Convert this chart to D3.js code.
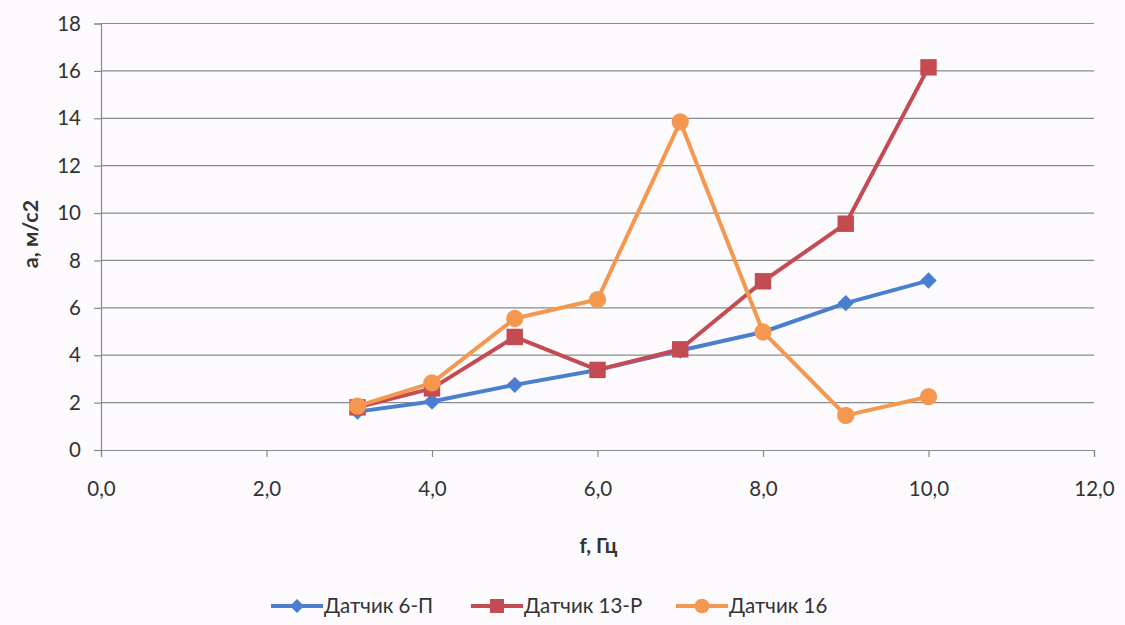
<!DOCTYPE html>
<html><head><meta charset="utf-8">
<script src="https://cdn.jsdelivr.net/npm/d3@7"></script>
<style>
html,body{margin:0;padding:0;background:#fcfafc;}
svg{display:block;font-family:Lato,"Open Sans",sans-serif;}
</style></head><body>
<svg id="c" width="1125" height="625"></svg>
<script>
const freq = [3.1, 4, 5, 6, 7, 8, 9, 10];
const sensor6P = [1.62, 2.05, 2.75, 3.38, 4.2, 4.98, 6.2, 7.15];
const sensor13R = [1.8, 2.6, 4.77, 3.38, 4.25, 7.12, 9.55, 16.15];
const sensor16 = [1.85, 2.83, 5.55, 6.35, 13.85, 4.98, 1.46, 2.25];
const seriesNames = ["Датчик 6-П", "Датчик 13-Р", "Датчик 16"];
const seriesColors = ["#4a7fcf", "#c54b52", "#f3984e"];
const xTicks = [0, 2, 4, 6, 8, 10, 12];
const yTicks = [0, 2, 4, 6, 8, 10, 12, 14, 16, 18];
const xTitle = "f, Гц";
const yTitle = "a, м/с2";

const svg = d3.select("#c");
const m = {l:101, r:1094, t:23.5, b:450};
const x = d3.scaleLinear().domain([0,12]).range([m.l, m.r]);
const y = d3.scaleLinear().domain([0,18]).range([m.b, m.t]);
const fmt = v => d3.format(".1f")(v).replace(".", ",");
const FS = 20.5;

// marker drawers
function marker(sel, k, scale) {
  scale = scale || 1;
  if (k === 0) {
    return sel.append("path").attr("d", d3.symbol().type(d3.symbolSquare).size(135*scale*scale)())
      .attr("transform", function(){ return (d3.select(this).attr("transform")||"") + " rotate(45)"; });
  } else if (k === 1) {
    return sel.append("path").attr("d", d3.symbol().type(d3.symbolSquare).size(270*scale*scale)());
  }
  return sel.append("path").attr("d", d3.symbol().type(d3.symbolCircle).size(235*scale*scale)());
}

// gridlines
svg.append("g").selectAll("line").data(yTicks.slice(1)).join("line")
  .attr("x1", m.l).attr("x2", m.r).attr("y1", d=>y(d)).attr("y2", d=>y(d))
  .attr("stroke", "#8a8a8e").attr("stroke-width", 1.2);

// y axis
const ya = svg.append("g").attr("transform", `translate(${m.l},0)`)
  .call(d3.axisLeft(y).tickValues(yTicks).tickSize(7).tickPadding(13).tickFormat(d3.format("d")));
ya.select(".domain").attr("stroke", "#8a8a8e").attr("stroke-width", 1.2);
ya.selectAll(".tick line").attr("stroke", "#8a8a8e").attr("stroke-width", 1.2);
ya.selectAll("text").attr("font-size", FS).attr("fill", "#333").attr("font-family", "Lato");

// x axis
const xa = svg.append("g").attr("transform", `translate(0,${m.b})`)
  .call(d3.axisBottom(x).tickValues(xTicks).tickSize(7).tickPadding(24).tickFormat(fmt));
xa.select(".domain").attr("stroke", "#8a8a8e").attr("stroke-width", 1.2);
xa.selectAll(".tick line").attr("stroke", "#8a8a8e").attr("stroke-width", 1.2);
xa.selectAll("text").attr("font-size", FS).attr("fill", "#333").attr("font-family", "Lato");

// titles
svg.append("text").attr("x", (m.l+m.r)/2 + 1).attr("y", 553).attr("text-anchor","middle")
  .attr("font-size", FS).attr("font-weight","bold").attr("fill","#333").text(xTitle);
svg.append("text").attr("transform", "translate(38,234) rotate(-90)").attr("text-anchor","middle")
  .attr("font-size", FS+1).attr("font-weight","bold").attr("fill","#333").text(yTitle);

// series
const allSeries = [sensor6P, sensor13R, sensor16];
const line = d3.line().x((d,i)=>x(freq[i])).y(d=>y(d));
allSeries.forEach((vals, k) => {
  const g = svg.append("g");
  g.append("path").datum(vals).attr("d", line).attr("fill","none")
    .attr("stroke", seriesColors[k]).attr("stroke-width", 4).attr("stroke-linejoin","round");
  g.selectAll("g.pt").data(vals).join("g").attr("class","pt")
    .attr("transform", (d,i)=>`translate(${x(freq[i])},${y(d)})`)
    .each(function(){ marker(d3.select(this), k).attr("fill", seriesColors[k]); });
});

// legend
const lg = svg.append("g");
const legX = [271, 471, 676];
seriesNames.forEach((n, k) => {
  const gx = legX[k];
  lg.append("line").attr("x1", gx).attr("x2", gx+52).attr("y1", 606).attr("y2", 606)
    .attr("stroke", seriesColors[k]).attr("stroke-width", 4);
  const mg = lg.append("g").attr("transform", `translate(${gx+26},606)`);
  marker(mg, k, 0.85).attr("fill", seriesColors[k]);
  lg.append("text").attr("x", gx+53).attr("y", 613).attr("font-size", FS).attr("fill","#333").text(n);
});
</script>
</body></html>
